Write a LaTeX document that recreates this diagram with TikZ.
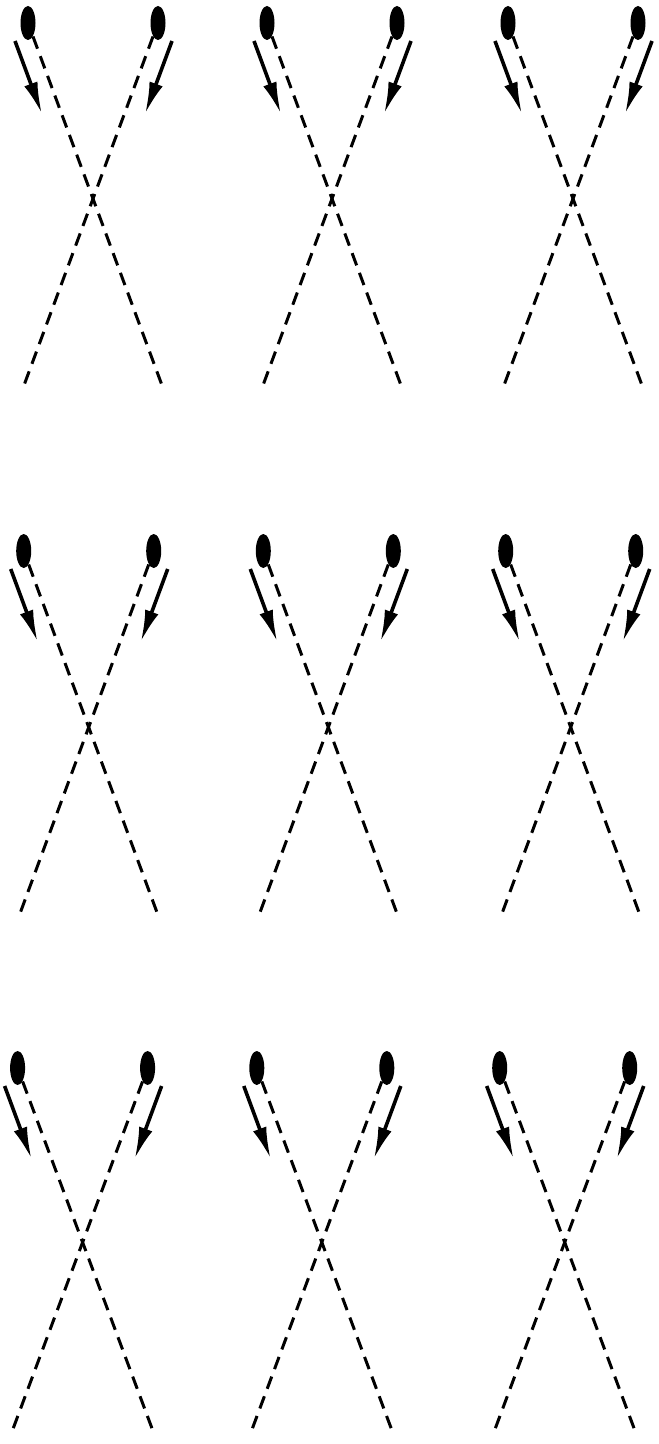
\documentclass[tikz,border=0pt]{standalone}
\usetikzlibrary{arrows.meta,shapes.geometric}
\begin{document}
\begin{tikzpicture}[x=0.5pt, y=-0.5pt,
  spot/.style={ellipse, fill, inner sep=0pt, minimum width=7.5pt, minimum height=17pt},
  trail/.style={line width=1.5pt, dash pattern=on 6.5pt off 4pt},
  push/.style={-{Latex[length=16pt,width=7pt]}, line width=1.8pt}]
\useasboundingbox (0,0) rectangle (658,1444);
\foreach \i/\cx/\cy/\h in {1/93/23/365, 2/332/23/365, 3/573/23/365,
                           4/88.7/551/366, 5/328.3/551/366, 6/570.7/551/366,
                           7/82.6/1068/362, 8/321.8/1068/362, 9/564.7/1068/362} {
  \node[spot] (l\i) at (\cx-65,\cy) {};
  \node[spot] (r\i) at (\cx+65,\cy) {};
  \coordinate (lf\i) at (\cx-70,\cy+\h);
  \coordinate (rf\i) at (\cx+70,\cy+\h);
  \coordinate (la\i) at (\cx-78,\cy+18);
  \coordinate (lb\i) at (\cx-51,\cy+91);
  \coordinate (ra\i) at (\cx+79,\cy+18);
  \coordinate (rb\i) at (\cx+52,\cy+91);
  \draw[trail] (l\i) -- (rf\i);
  \draw[trail] (r\i) -- (lf\i);
  \draw[push] (la\i) -- (lb\i);
  \draw[push] (ra\i) -- (rb\i);
}
\end{tikzpicture}
\end{document}
